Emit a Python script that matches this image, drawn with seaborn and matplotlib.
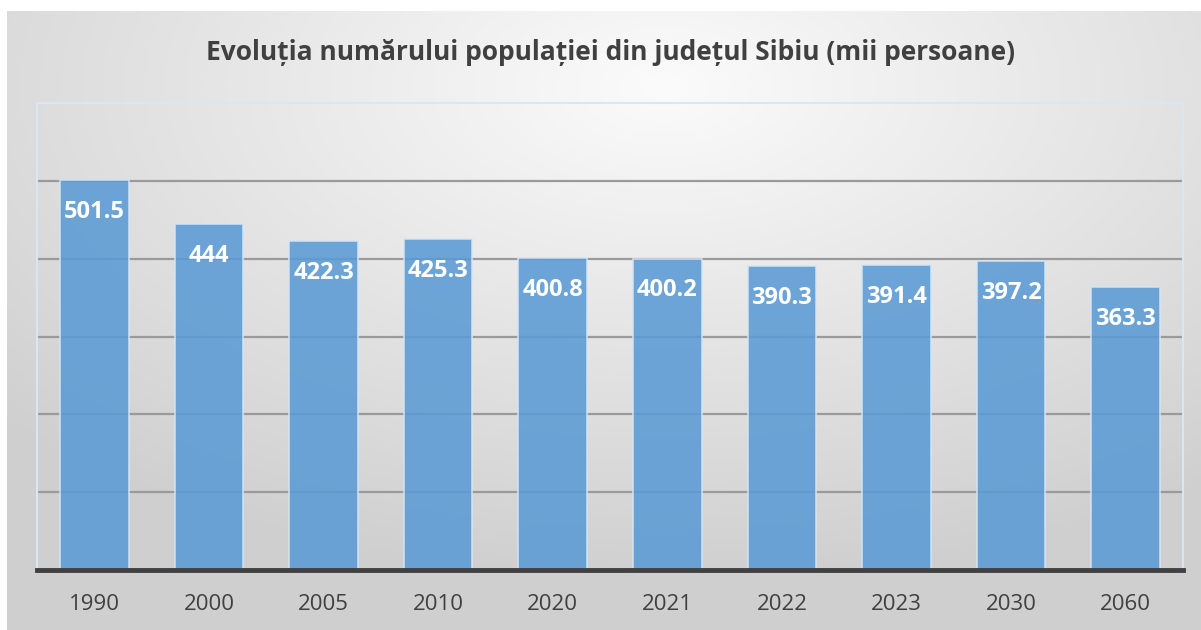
import numpy as np
import pandas as pd
import matplotlib
matplotlib.use('Agg')
import matplotlib.pyplot as plt
import seaborn as sns

years = ['1990', '2000', '2005', '2010', '2020', '2021', '2022', '2023', '2030', '2060']
population = [501.5, 444, 422.3, 425.3, 400.8, 400.2, 390.3, 391.4, 397.2, 363.3]
value_labels = ['501.5', '444', '422.3', '425.3', '400.8', '400.2', '390.3', '391.4', '397.2', '363.3']
title = 'Evoluția numărului populației din județul Sibiu (mii persoane)'

df = pd.DataFrame({'an': years, 'populatie': population})

sns.set_style('white')
plt.rcParams['font.family'] = ['Open Sans', 'DejaVu Sans']

fig = plt.figure(figsize=(12.01, 6.3), dpi=100)
fig.patch.set_facecolor('white')

# gradient background of the chart area
bg = fig.add_axes([7 / 1201, 0, 1 - 7 / 1201, 1 - 11 / 630])
h, w = 300, 600
yy, xx = np.mgrid[0:h, 0:w]
d = np.sqrt(((xx - w * 0.55) / w) ** 2 + ((yy - h * 0.12) / h) ** 2 * 0.9)
d = np.clip(d / 0.75, 0, 1)
shade = 0.985 - 0.17 * d
bg.imshow(np.dstack([shade, shade, shade]), aspect='auto', extent=[0, 1, 0, 1], origin='upper')
bg.set_axis_off()

ax = fig.add_axes([37 / 1201, (630 - 570) / 630, (1183 - 37) / 1201, (570 - 103) / 630])
ax.patch.set_alpha(0)
sns.barplot(data=df, x='an', y='populatie', color='#5b9bd5', saturation=1, width=0.6,
            edgecolor='#d5e5f5', linewidth=1.2, alpha=0.88, ax=ax, zorder=4)
ax.set_ylim(0, 600)
ax.set_xlim(-0.5, len(years) - 0.5)
ax.set_yticks([100, 200, 300, 400, 500])
ax.yaxis.grid(True, color='#9a9a9a', linewidth=1.6)
for line in ax.get_ygridlines():
    line.set_zorder(3)
ax.tick_params(axis='y', left=False, labelleft=False)
ax.tick_params(axis='x', bottom=False, labelsize=16, labelcolor='#404040', pad=14)
ax.set_xlabel('')
ax.set_ylabel('')
for side in ['left', 'top', 'right']:
    ax.spines[side].set_color('#d9e6f3')
    ax.spines[side].set_linewidth(1.5)
ax.spines['bottom'].set_color('#404040')
ax.spines['bottom'].set_linewidth(3.5)
ax.spines['bottom'].set_zorder(5)

for i, (v, lab) in enumerate(zip(population, value_labels)):
    ax.annotate(lab, (i, v), xytext=(0, -23), textcoords='offset points',
                ha='center', va='center', color='white', fontsize=17,
                fontweight='bold', zorder=6)

fig.text(0.508, 1 - 52 / 630, title, ha='center', va='center', fontsize=19,
         fontweight='bold', color='#404040')

fig.savefig('out.png', dpi=100)
